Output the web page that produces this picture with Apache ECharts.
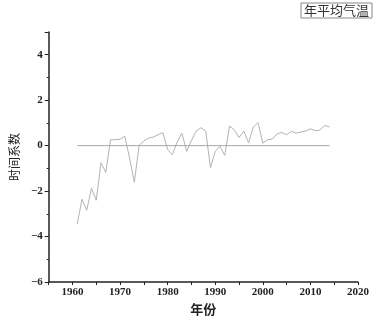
<!DOCTYPE html>
<html>
<head>
<meta charset="utf-8">
<script src="https://cdn.jsdelivr.net/npm/echarts@6/dist/echarts.min.js"></script>
<style>
  html, body { margin: 0; padding: 0; background: #fff; }
  #main { width: 377px; height: 321px; }
</style>
</head>
<body>
<div id="main"></div>
<script>
// 数据
var years = [];
for (var y = 1961; y <= 2014; y++) years.push(y);
var values = [
    -3.45, -2.36, -2.84, -1.87, -2.40, -0.75, -1.18, 0.26, 0.26, 0.28,
    0.41, -0.55, -1.61, 0.01, 0.20, 0.33, 0.38, 0.48, 0.57, -0.18,
    -0.40, 0.16, 0.55, -0.26, 0.23, 0.64, 0.79, 0.64, -0.97, -0.25,
    -0.03, -0.43, 0.86, 0.70, 0.36, 0.64, 0.13, 0.82, 1.01, 0.11,
    0.26, 0.29, 0.52, 0.58, 0.48, 0.63, 0.55, 0.60, 0.64, 0.74,
    0.66, 0.68, 0.89, 0.82
];
var zeroLine = [[1961, 0], [2014, 0]];

var lineData = years.map(function (yr, i) { return [yr, values[i]]; });

var numFont = 'Liberation Serif';
var cjkFont = 'Noto Sans CJK SC';

var myChart = echarts.init(document.getElementById('main'));

var option = {
    animation: false,
    backgroundColor: '#fff',
    grid: { left: 48, right: 19, top: 32, bottom: 39 },
    legend: {
        right: 5,
        top: 3,
        data: ['年平均气温'],
        icon: 'rect',
        itemWidth: 0,
        itemHeight: 0,
        itemGap: 0,
        padding: [1, 3, 1, 3],
        borderColor: '#888',
        borderWidth: 1,
        borderRadius: 0,
        textStyle: { fontFamily: cjkFont, fontSize: 13, color: '#333', padding: [0, 0, 0, -5] }
    },
    xAxis: {
        type: 'value',
        min: 1955,
        max: 2020,
        interval: 5,
        name: '年份',
        nameLocation: 'middle',
        nameGap: 21,
        nameTextStyle: { fontFamily: cjkFont, fontSize: 13, fontWeight: 'bold', color: '#222' },
        axisLine: { onZero: false, lineStyle: { color: '#222', width: 1.5 } },
        axisTick: { show: true, length: 3, lineStyle: { color: '#222' } },
        axisLabel: {
            fontFamily: numFont, fontSize: 11, fontWeight: 'bold', color: '#222', margin: 5,
            formatter: function (v) { return v % 10 === 0 ? String(v) : ''; }
        },
        splitLine: { show: false }
    },
    yAxis: {
        type: 'value',
        min: -6,
        max: 5,
        interval: 2,
        name: '时间系数',
        nameLocation: 'middle',
        nameGap: 21,
        nameTextStyle: { fontFamily: cjkFont, fontSize: 12, color: '#222' },
        axisLine: { show: true, onZero: false, lineStyle: { color: '#222', width: 1.5 } },
        axisTick: { show: true, length: 4, lineStyle: { color: '#222' } },
        minorTick: { show: true, splitNumber: 2, length: 2, lineStyle: { color: '#222' } },
        axisLabel: {
            fontFamily: numFont, fontSize: 11, fontWeight: 'bold', color: '#222', margin: 6,
            showMaxLabel: false,
            formatter: function (v) { return v < 0 ? '\u2212' + Math.abs(v) : String(v); }
        },
        splitLine: { show: false }
    },
    series: [
        {
            name: '年平均气温',
            type: 'line',
            data: lineData,
            showSymbol: false,
            lineStyle: { color: '#b3b3b3', width: 1 },
            itemStyle: { color: '#b3b3b3' }
        },
        {
            name: 'zero',
            type: 'line',
            data: zeroLine,
            showSymbol: false,
            lineStyle: { color: '#a6a6a6', width: 1 },
            itemStyle: { color: '#a6a6a6' }
        }
    ]
};

myChart.setOption(option);
</script>
</body>
</html>
